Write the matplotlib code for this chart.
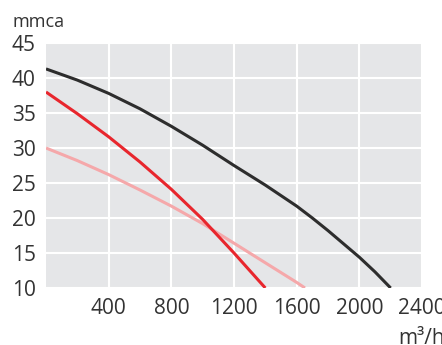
import numpy as np
import matplotlib.pyplot as plt

plt.rcParams['font.family'] = ['Open Sans', 'DejaVu Sans']

# curve data (flow m3/h, pressure mmca)
dark_x = [0, 200, 400, 600, 800, 1000, 1200, 1300, 1400, 1500, 1600, 1700, 1800, 1900, 2000, 2100, 2200]
dark_y = [41.3, 39.7, 37.8, 35.6, 33.1, 30.4, 27.5, 26.1, 24.7, 23.2, 21.7, 20.0, 18.2, 16.3, 14.4, 12.3, 10.0]

red_x = [0, 200, 400, 600, 800, 1000, 1100, 1200, 1300, 1400]
red_y = [38.0, 34.9, 31.6, 28.0, 24.1, 19.8, 17.4, 15.0, 12.5, 10.0]

pink_x = [0, 200, 400, 600, 800, 1000, 1200, 1400, 1600, 1653]
pink_y = [30.0, 28.2, 26.2, 24.0, 21.7, 19.2, 16.4, 13.6, 10.8, 10.0]

xticks = [400, 800, 1200, 1600, 2000, 2400]
yticks = [10, 15, 20, 25, 30, 35, 40, 45]

fig = plt.figure(figsize=(4.42, 3.45), dpi=100)
ax = fig.add_axes([46/442, 57/345, 376/442, 245/345])
ax.set_facecolor('#e5e6e8')

ax.plot(pink_x, pink_y, color='#f5a8aa', lw=2.2, solid_capstyle='butt')
ax.plot(red_x, red_y, color='#e8262d', lw=2.2, solid_capstyle='butt')
ax.plot(dark_x, dark_y, color='#2d2d2d', lw=2.2, solid_capstyle='butt')

ax.set_xlim(0, 2400)
ax.set_ylim(10, 45)
ax.set_xticks(xticks)
ax.set_yticks(yticks)
ax.grid(True, color='white', lw=1.5)
ax.set_axisbelow(True)
for s in ax.spines.values():
    s.set_visible(False)

ax.tick_params(length=0, labelsize=15, labelcolor='#333333')
ax.tick_params(axis='y', pad=24.5)
ax.tick_params(axis='x', pad=7)
for t in ax.get_yticklabels():
    t.set_ha('left')

fig.text(12/442, 1 - 22/345, 'mmca', fontsize=13, color='#333333', va='center', ha='left')
fig.text(398/442, 7/345, 'm³/h', fontsize=15, color='#333333', va='center', ha='left')

fig.savefig('out.png', dpi=100)
